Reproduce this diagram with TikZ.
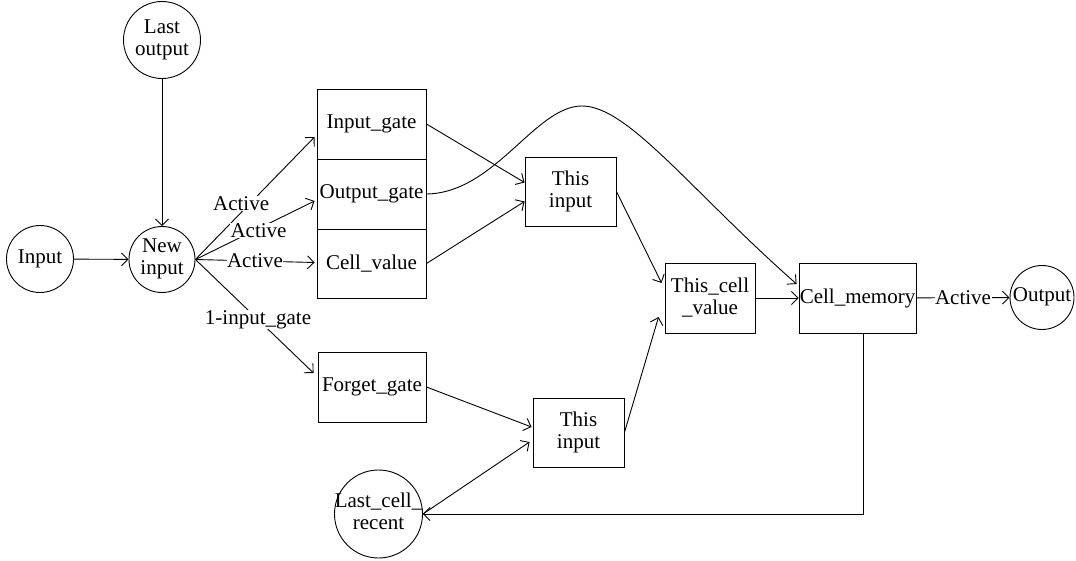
\documentclass[tikz,border=0pt]{standalone}
\usepackage{fontspec}
\setmainfont{Liberation Serif}
\usetikzlibrary{arrows.meta,calc}
\newcommand\ctext[1]{\makebox[0pt]{\begin{tabular}{@{}c@{}}#1\end{tabular}}}
\begin{document}
\begin{tikzpicture}[x=1pt,y=-1pt,
  font=\fontsize{21}{22}\selectfont,
  every path/.style={line width=0.9pt},
  arr/.style={-{Straight Barb[length=6.5pt,width=13pt,line width=0.9pt]}},
  circ/.style={draw, circle, inner sep=0pt, minimum size=#1},
  blk/.style={draw, rectangle, inner sep=0pt, align=center, minimum width=#1},
  lbl/.style={fill=white, inner sep=0.5pt}
]
\useasboundingbox (0,0) rectangle (1076,561);
% circles
\node[circ=77] (lo) at (162,40) {\ctext{Last\\output}};
\node[circ=67] (inp) at (40,259) {\ctext{Input}};
\node[circ=66] (ni) at (162,259.5) {\ctext{New\\input}};
\node[circ=64] (out) at (1042,297.5) {\ctext{Output}};
\node[circ=88] (lcr) at (378.5,514) {\ctext{Last\_cell\_\\recent}};
% boxes
\node[blk=109, minimum height=70] (ig) at (371.5,124) {Input\_gate};
\node[blk=109, minimum height=70] (og) at (371.5,194) {Output\_gate};
\node[blk=109, minimum height=69] (cv) at (371.5,263.5) {Cell\_value};
\node[blk=108, minimum height=70] (fg) at (372,387) {Forget\_gate};
\node[blk=91, minimum height=69] (ti1) at (570.5,191.5) {This\\input};
\node[blk=91, minimum height=69] (ti2) at (578.5,432.5) {This\\input};
\node[blk=90, minimum height=70] (tcv) at (710,298) {This\_cell\\\_value};
\node[blk=117, minimum height=70] (cm) at (857.5,298) {Cell\_memory};
% connectors
\draw[arr] (lo) -- (ni);
\draw[arr] (inp) -- (ni);
\draw[arr] (ni.east) -- node[lbl, pos=0.4, xshift=-2pt, yshift=7pt] {Active} ([xshift=-2pt,yshift=-13pt]ig.west);
\draw[arr] (ni.east) -- node[lbl, pos=0.53, yshift=-2pt] {Active} ([xshift=-2pt,yshift=-7pt]og.west);
\draw[arr] (ni.east) -- node[lbl, pos=0.5] {Active} ([xshift=-2pt,yshift=1pt]cv.west);
\draw[arr] (ni.east) -- node[lbl, pos=0.53] {1-input\_gate} ([xshift=-4pt,yshift=14pt]fg.west);
\draw[arr] (ig.east) -- ([yshift=9pt]ti1.west);
\draw[arr] (cv.east) -- ([yshift=-10pt]ti1.west);
\coordinate (peak) at (582,106);
\draw[arr] (og.east) .. controls (495,193) and (535,106) .. (peak)
  .. controls (628,106) and (690,190) .. ([xshift=-2pt,yshift=14pt]cm.west);
\draw[arr] (ti1.east) -- ([xshift=-3pt,yshift=15pt]tcv.west);
\draw[arr] (ti2.east) -- ([xshift=-6pt,yshift=-19pt]tcv.west);
\draw[arr] (fg.east) -- ([xshift=-1pt,yshift=5.5pt]ti2.west);
\draw[arr] (lcr.east) -- ([xshift=-3pt,yshift=-9.5pt]ti2.west);
\draw[arr] (tcv) -- (cm);
\draw[arr] (cm) -- node[lbl] {Active} (out);
\draw[arr] ([xshift=6pt]cm.south) |- (lcr.east);
\end{tikzpicture}
\end{document}
